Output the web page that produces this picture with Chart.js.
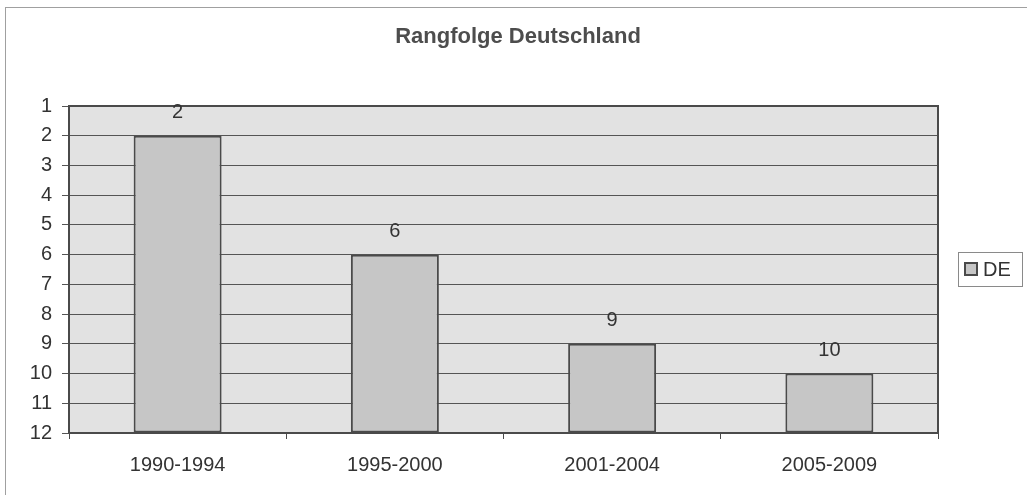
<!DOCTYPE html>
<html>
<head>
<meta charset="utf-8">
<script src="https://cdn.jsdelivr.net/npm/chart.js@4/dist/chart.umd.min.js"></script>
<style>
html,body{margin:0;padding:0;background:#fff;}
#wrap{width:1027px;height:495px;position:relative;}
</style>
</head>
<body>
<div id="wrap"><canvas id="c" width="1027" height="495"></canvas></div>
<script>
const categories = ["1990-1994", "1995-2000", "2001-2004", "2005-2009"];
const seriesName = "DE";
const ranks = [2, 6, 9, 10];
const yTicks = [1,2,3,4,5,6,7,8,9,10,11,12];
const chartTitle = "Rangfolge Deutschland";

const FONT = "'Liberation Sans', Arial, sans-serif";
const TEXT = "#333333";
const DARK = "#4a4a4a";
const BAR_FILL = "#c6c6c6";
const PLOT_BG = "#e2e2e2";

const decor = {
  id: 'decor',
  beforeDraw(chart) {
    const ctx = chart.ctx, a = chart.chartArea;
    ctx.save();
    // outer chart border
    ctx.strokeStyle = "#a0a0a0";
    ctx.lineWidth = 1;
    ctx.strokeRect(5.5, 7.5, 1040, 500);
    // plot background
    ctx.fillStyle = PLOT_BG;
    ctx.fillRect(a.left, a.top, a.right - a.left, a.bottom - a.top);
    // title
    ctx.fillStyle = "#4d4d4d";
    ctx.font = "bold 22px " + FONT;
    ctx.textAlign = "center";
    ctx.textBaseline = "middle";
    ctx.fillText(chartTitle, 518, 37);
    ctx.restore();
  },
  afterDatasetsDraw(chart) {
    const ctx = chart.ctx, a = chart.chartArea;
    ctx.save();
    // plot frame
    ctx.strokeStyle = DARK;
    ctx.lineWidth = 2;
    ctx.strokeRect(a.left, a.top, a.right - a.left, a.bottom - a.top);
    // value labels
    const meta = chart.getDatasetMeta(0);
    ctx.fillStyle = TEXT;
    ctx.font = "20px " + FONT;
    ctx.textAlign = "center";
    ctx.textBaseline = "middle";
    meta.data.forEach((el, i) => {
      ctx.fillText(String(chart.data.datasets[0].data[i]), el.x, el.y - 23);
    });
    // legend
    const ds = chart.data.datasets[0];
    ctx.strokeStyle = "#8a8a8a";
    ctx.lineWidth = 1;
    ctx.fillStyle = "#ffffff";
    ctx.fillRect(958.5, 252.5, 64, 34);
    ctx.strokeRect(958.5, 252.5, 64, 34);
    ctx.fillStyle = ds.backgroundColor;
    ctx.fillRect(965, 263, 12, 12);
    ctx.strokeStyle = DARK;
    ctx.lineWidth = 2;
    ctx.strokeRect(965, 263, 12, 12);
    ctx.fillStyle = TEXT;
    ctx.font = "20px " + FONT;
    ctx.textAlign = "left";
    ctx.textBaseline = "middle";
    ctx.fillText(ds.label, 983, 270);
    ctx.restore();
  }
};

new Chart(document.getElementById('c'), {
  type: 'bar',
  data: {
    labels: categories,
    datasets: [{
      label: seriesName,
      data: ranks,
      base: 12,
      backgroundColor: BAR_FILL,
      borderColor: DARK,
      borderWidth: 2,
      borderSkipped: false,
      categoryPercentage: 1.0,
      barPercentage: 0.405
    }]
  },
  options: {
    responsive: false,
    animation: false,
    devicePixelRatio: 1,
    layout: { padding: { left: 0, right: 89, top: 106, bottom: 0 } },
    plugins: {
      legend: { display: false },
      tooltip: { enabled: false },
      title: { display: false }
    },
    scales: {
      x: {
        grid: { display: true, drawOnChartArea: false, drawTicks: true, tickLength: 6, color: DARK, offset: true },
        border: { display: true, color: DARK, width: 2 },
        ticks: { color: TEXT, font: { family: FONT, size: 20 }, padding: 14, maxRotation: 0 },
        afterFit(s) { s.height = 62; }
      },
      y: {
        reverse: true,
        min: 1,
        max: 12,
        afterBuildTicks(s) { s.ticks = yTicks.map(v => ({ value: v })); },
        grid: { color: "#555555", lineWidth: 1, drawTicks: true, tickLength: 7 },
        border: { display: true, color: DARK, width: 2 },
        ticks: { color: TEXT, font: { family: FONT, size: 20 }, padding: 10, stepSize: 1 },
        afterFit(s) { s.width = 69; }
      }
    }
  },
  plugins: [decor]
});
</script>
</body>
</html>
